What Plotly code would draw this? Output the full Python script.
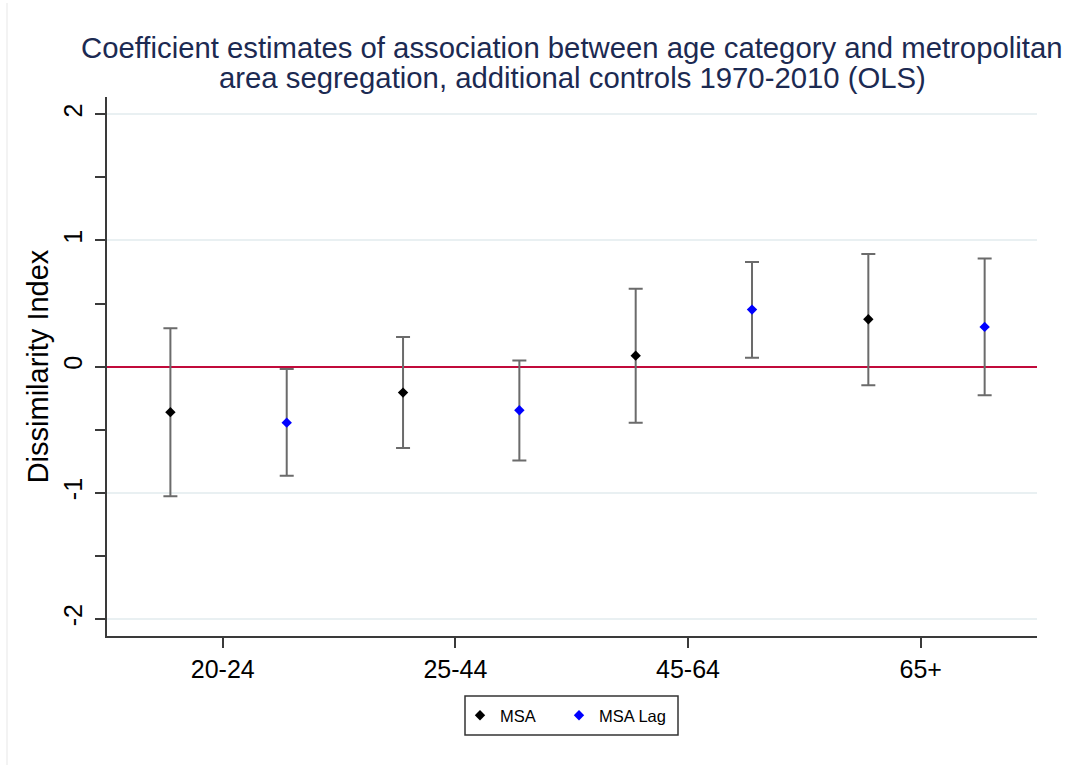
import plotly.graph_objects as go

# Coefficient estimates with 95% confidence intervals, by age category
categories = ["20-24", "25-44", "45-64", "65+"]

msa_coef = [-0.361, -0.206, 0.087, 0.375]
msa_lo = [-1.027, -0.644, -0.444, -0.148]
msa_hi = [0.304, 0.235, 0.618, 0.893]

lag_coef = [-0.444, -0.346, 0.452, 0.315]
lag_lo = [-0.864, -0.745, 0.071, -0.227]
lag_hi = [-0.018, 0.048, 0.830, 0.856]

# Plot positions: the two series alternate along the x axis
msa_x = [1, 3, 5, 7]
lag_x = [2, 4, 6, 8]
cat_tick_x = [1.45, 3.45, 5.45, 7.45]

FONT = "Liberation Sans, Arial, Helvetica, sans-serif"
AXIS_COLOR = "#3a3a3a"
BAR_COLOR = "#6b6b6b"


def err(coef, lo, hi):
    return dict(
        type="data",
        symmetric=False,
        array=[h - c for c, h in zip(coef, hi)],
        arrayminus=[c - l for c, l in zip(coef, lo)],
        color=BAR_COLOR,
        thickness=2,
        width=7,
    )


fig = go.Figure()
fig.add_trace(go.Scatter(
    x=msa_x, y=msa_coef, mode="markers", name="MSA", legend="legend",
    marker=dict(symbol="diamond", size=8, color="#000000"),
    error_y=err(msa_coef, msa_lo, msa_hi),
))
fig.add_trace(go.Scatter(
    x=lag_x, y=lag_coef, mode="markers", name="MSA Lag", legend="legend2",
    marker=dict(symbol="diamond", size=8, color="#0000ff"),
    error_y=err(lag_coef, lag_lo, lag_hi),
))

W, H = 1070, 765
L, R, T, B = 107, 33, 97, 129
plot_w = W - L - R
plot_h = H - T - B


def px(pix):
    """Pixel column -> paper x coordinate."""
    return (pix - L) / plot_w


def py(pix):
    """Pixel row -> paper y coordinate."""
    return (H - B - pix) / plot_h


title_lines = [
    "Coefficient estimates of association between age category and metropolitan",
    "area segregation, additional controls 1970-2010 (OLS)",
]
annotations = [
    dict(text=t, x=0.5, xref="paper", y=py(yp), yref="paper",
         xanchor="center", yanchor="middle", showarrow=False,
         font=dict(family=FONT, size=29.3, color="#1c2a52"))
    for t, yp in zip(title_lines, [47.5, 77.5])
]

legend_style = dict(
    orientation="h",
    xanchor="left",
    y=py(715.5), yanchor="middle",
    borderwidth=0,
    bgcolor="rgba(0,0,0,0)",
    font=dict(family=FONT, size=16.5, color="#000000"),
    itemwidth=30,
)

fig.update_layout(
    width=W, height=H,
    margin=dict(l=L, r=R, t=T, b=B, pad=0),
    paper_bgcolor="white",
    plot_bgcolor="white",
    font=dict(family=FONT, color="#000000"),
    showlegend=True,
    legend=dict(legend_style, x=px(460)),
    legend2=dict(legend_style, x=px(559)),
    annotations=annotations,
    shapes=[
        # faint frame line at the left edge of the graph region
        dict(type="line", xref="paper", yref="paper",
             x0=px(7), x1=px(7), y0=py(3), y1=py(765),
             line=dict(color="#efefef", width=1.5)),
        # legend frame
        dict(type="rect", xref="paper", yref="paper",
             x0=px(465), x1=px(678), y0=py(696), y1=py(735),
             line=dict(color="#333333", width=1.5),
             fillcolor="rgba(0,0,0,0)"),
    ],
)

fig.update_xaxes(
    range=[0.455, 8.45],
    tickmode="array", tickvals=cat_tick_x, ticktext=categories,
    ticks="outside", ticklen=10, tickwidth=2, tickcolor=AXIS_COLOR,
    tickfont=dict(family=FONT, size=25, color="#000000"),
    showline=True, linecolor=AXIS_COLOR, linewidth=2,
    showgrid=False, zeroline=False,
)

fig.update_yaxes(
    range=[-2.135, 2.137],
    tickmode="array", tickvals=[-2, -1, 0, 1, 2],
    ticktext=["-2", "-1", "0", "1", "2"],
    tickangle=-90,
    ticks="outside", ticklen=10, tickwidth=2, tickcolor=AXIS_COLOR,
    ticklabelstandoff=3,
    tickfont=dict(family=FONT, size=25, color="#000000"),
    minor=dict(tickvals=[-1.5, -0.5, 0.5, 1.5], ticks="outside",
               ticklen=10, tickwidth=2, tickcolor=AXIS_COLOR, showgrid=False),
    showline=True, linecolor=AXIS_COLOR, linewidth=2,
    showgrid=True, gridcolor="#e9f0f2", gridwidth=1.5,
    zeroline=True, zerolinecolor="#c10a3b", zerolinewidth=2,
    title=dict(text="Dissimilarity Index", standoff=2,
               font=dict(family=FONT, size=29, color="#000000")),
)

fig.write_html("out.html")
